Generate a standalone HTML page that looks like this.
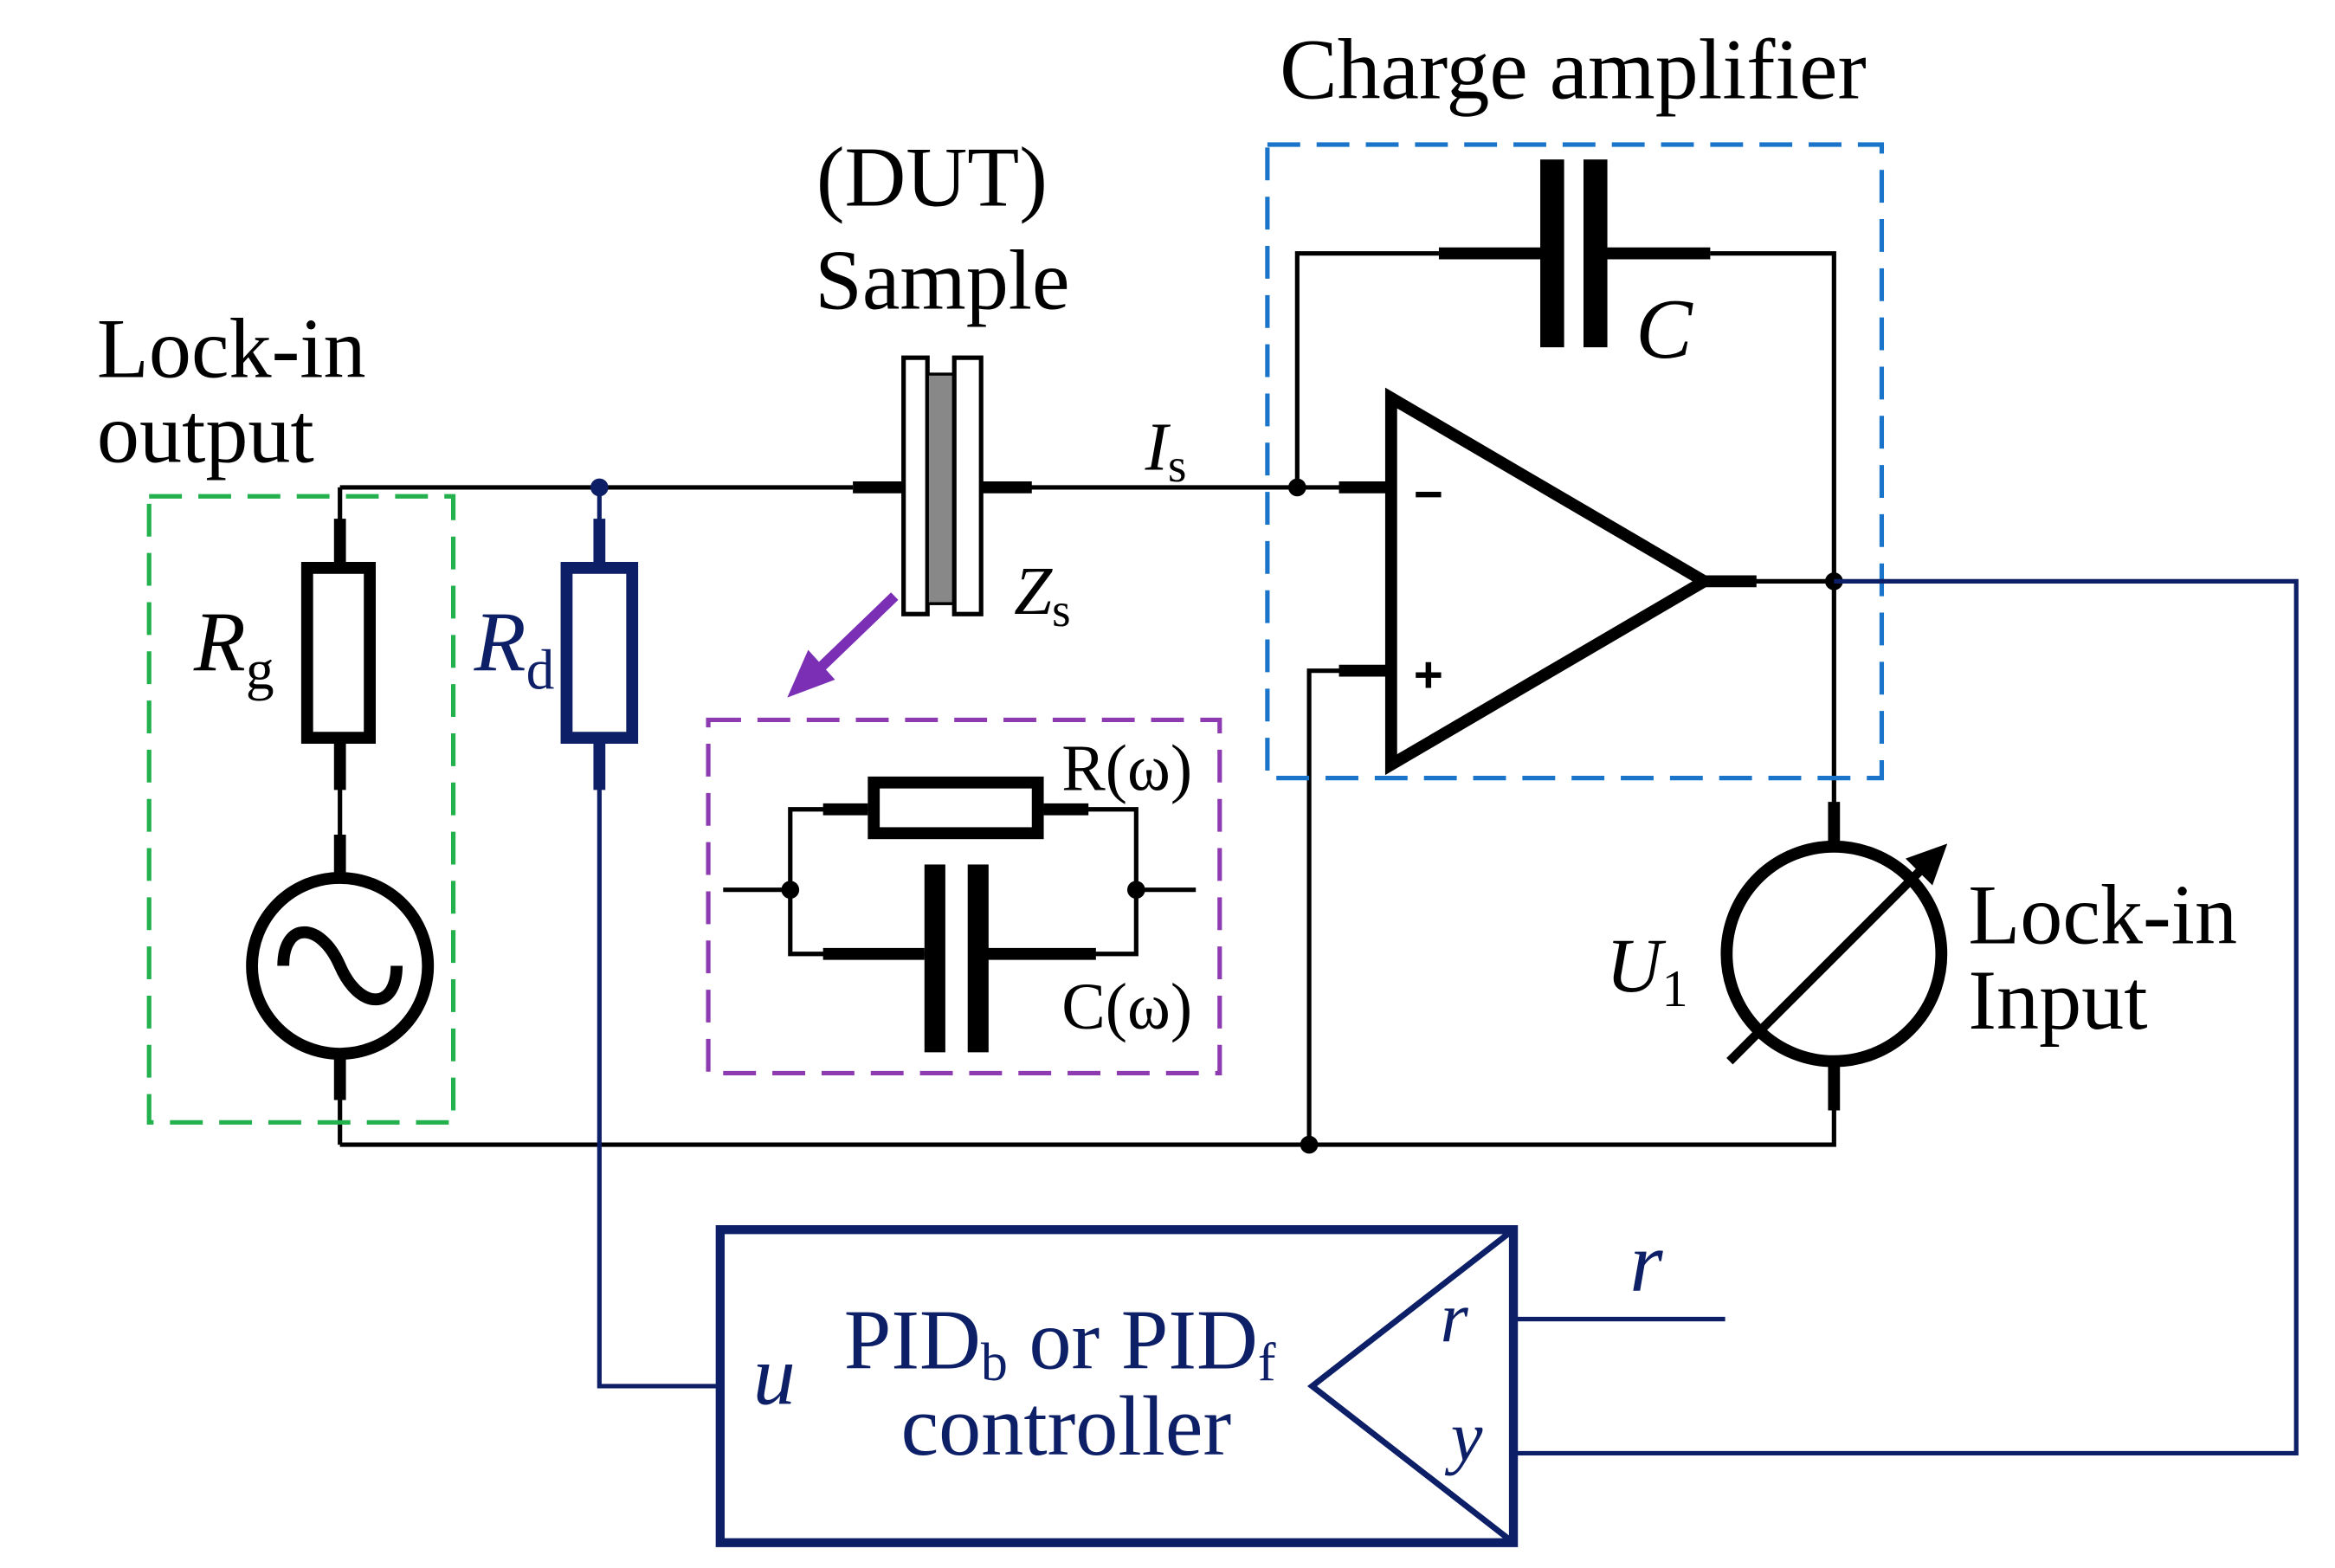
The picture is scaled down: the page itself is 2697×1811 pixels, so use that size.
<!DOCTYPE html>
<html><head><meta charset="utf-8"><style>html,body{margin:0;padding:0;background:#fff}svg{display:block}</style></head><body>
<svg width="2697" height="1811" viewBox="0 0 1566 1052" preserveAspectRatio="none" xmlns="http://www.w3.org/2000/svg" font-family="Liberation Serif, serif">
<g fill="none" stroke="#000" stroke-width="3">
<polyline points="228,327 572,327"/>
<polyline points="690,327 933,327"/>
<line x1="228" y1="327" x2="228" y2="378"/>
<line x1="228" y1="498" x2="228" y2="588"/>
<line x1="228" y1="708" x2="228" y2="768"/>
<polyline points="228,768 1230,768 1230,745"/>
<polyline points="870,327 870,170 965,170"/>
<polyline points="1147,170 1230,170 1230,540"/>
<polyline points="878,768 878,450 933,450"/>
<line x1="1143" y1="390" x2="1230" y2="390"/>
</g>
<g stroke="#000" stroke-width="8" fill="none">
<line x1="228" y1="498" x2="228" y2="530"/>
<line x1="228" y1="560" x2="228" y2="588"/>
<line x1="228" y1="708" x2="228" y2="738"/>
<line x1="228" y1="348" x2="228" y2="378"/>
<rect x="206" y="381" width="42" height="114"/>
<circle cx="228" cy="648" r="59"/>
<path d="M190,648 C190,618 215,618 228,648 C241,678 266,678 266,648"/>
<line x1="965" y1="170" x2="1035" y2="170"/>
<line x1="1077" y1="170" x2="1147" y2="170"/>
<line x1="898" y1="327" x2="933" y2="327"/>
<line x1="898" y1="450" x2="933" y2="450"/>
<line x1="1143" y1="390" x2="1178" y2="390"/>
<polygon points="933,267 933,513 1143,390"/>
<line x1="1230" y1="538" x2="1230" y2="568"/>
<line x1="1230" y1="712" x2="1230" y2="745"/>
<circle cx="1230" cy="640" r="72"/>
<line x1="572" y1="327" x2="606" y2="327"/>
<line x1="658" y1="327" x2="692" y2="327"/>
</g>
<rect x="1033" y="107" width="16" height="126" fill="#000"/>
<rect x="1062" y="107" width="16" height="126" fill="#000"/>
<line x1="1160" y1="712" x2="1292" y2="580" stroke="#000" stroke-width="6"/>
<polygon points="1306,566 1278,576 1296,594" fill="#000"/>
<rect x="606" y="240" width="16" height="172" fill="#fff" stroke="#000" stroke-width="3"/>
<rect x="622" y="251" width="18" height="154" fill="#888" stroke="#000" stroke-width="2"/>
<rect x="640" y="240" width="18" height="172" fill="#fff" stroke="#000" stroke-width="3"/>
<g fill="#000"><circle cx="870" cy="327" r="6"/><circle cx="1230" cy="390" r="6"/><circle cx="878" cy="768" r="6"/></g>
<text x="958" y="343" font-size="34" font-weight="bold" font-family="Liberation Sans, sans-serif" text-anchor="middle">−</text>
<text x="958" y="464" font-size="34" font-weight="bold" font-family="Liberation Sans, sans-serif" text-anchor="middle">+</text>
<g stroke="#000" stroke-width="3" fill="none">
<line x1="485" y1="597" x2="530" y2="597"/>
<polyline points="582,543 530,543 530,640 620,640"/>
<polyline points="700,543 762,543 762,640 662,640"/>
<line x1="762" y1="597" x2="802" y2="597"/>
</g>
<g stroke="#000" stroke-width="8" fill="none"><line x1="552" y1="543" x2="582" y2="543"/><line x1="700" y1="543" x2="730" y2="543"/><rect x="586" y="525" width="110" height="34"/><line x1="552" y1="640" x2="620" y2="640"/><line x1="662" y1="640" x2="735" y2="640"/></g>
<rect x="620" y="580" width="14" height="126" fill="#000"/><rect x="649" y="580" width="14" height="126" fill="#000"/>
<circle cx="530" cy="597" r="6" fill="#000"/><circle cx="762" cy="597" r="6" fill="#000"/>
<rect x="100" y="333" width="204" height="420" fill="none" stroke="#22b14c" stroke-width="3" stroke-dasharray="22,11"/>
<rect x="475" y="483" width="343" height="237" fill="none" stroke="#8e3ab0" stroke-width="3" stroke-dasharray="22,11"/>
<rect x="850" y="97" width="412" height="425" fill="none" stroke="#1a74c9" stroke-width="3" stroke-dasharray="22,11"/>
<line x1="600" y1="400" x2="545" y2="453" stroke="#7b2fb5" stroke-width="7"/>
<polygon points="528,468 542,436 560,456" fill="#7b2fb5"/>
<g stroke="#0d1f66" fill="none">
<polyline points="402,327 402,378" stroke-width="3"/>
<polyline points="402,498 402,930 483,930" stroke-width="3"/>
<line x1="402" y1="498" x2="402" y2="530" stroke-width="8"/>
<line x1="402" y1="348" x2="402" y2="378" stroke-width="8"/>
<rect x="380" y="381" width="44" height="114" stroke-width="8"/>
<polyline points="1230,390 1540,390 1540,975 1015,975" stroke-width="3"/>
<line x1="1015" y1="885" x2="1157" y2="885" stroke-width="3"/>
<rect x="483" y="825" width="532" height="210" stroke-width="6"/>
<polyline points="1015,825 880,930 1015,1035" stroke-width="4"/>
</g>
<circle cx="402" cy="327" r="6" fill="#0d1f66"/>
<g font-size="57" fill="#000">
<text x="1055" y="66" text-anchor="middle" font-size="58">Charge amplifier</text>
<text x="625" y="138" text-anchor="middle">(DUT)</text>
<text x="632" y="207" text-anchor="middle">Sample</text>
<text x="65" y="253">Lock-in</text>
<text x="65" y="310">output</text>
<text x="1320" y="633">Lock-in</text>
<text x="1320" y="690">Input</text>
<text x="130" y="450" font-style="italic">R<tspan font-size="38" font-style="normal" dy="12">g</tspan></text>
<text x="1097" y="240" font-style="italic">C</text>
<text x="768" y="315" font-size="46" font-style="italic">I<tspan font-size="32" font-style="normal" dy="8">s</tspan></text>
<text x="680" y="412" font-size="46" font-style="italic">Z<tspan font-size="32" font-style="normal" dy="8">s</tspan></text>
<text x="1077" y="665" font-size="52" font-style="italic">U<tspan font-size="35" font-style="normal" dy="10">1</tspan></text>
<text x="712" y="530" font-size="44">R(ω)</text>
<text x="712" y="690" font-size="44">C(ω)</text>
</g>
<g fill="#0d1f66" font-size="57">
<text x="318" y="450" font-style="italic">R<tspan font-size="38" font-style="normal" dy="12">d</tspan></text>
<text x="1093" y="866" font-style="italic">r</text>
<text x="966" y="900" font-size="48" font-style="italic">r</text>
<text x="973" y="980" font-size="48" font-style="italic">y</text>
<text x="505" y="942" font-style="italic">u</text>
<text x="566" y="918">PID<tspan font-size="36" dy="8">b</tspan><tspan dy="-8"> or PID</tspan><tspan font-size="36" dy="8">f</tspan></text>
<text x="715" y="976" text-anchor="middle">controller</text>
</g>
</svg>
</body></html>
